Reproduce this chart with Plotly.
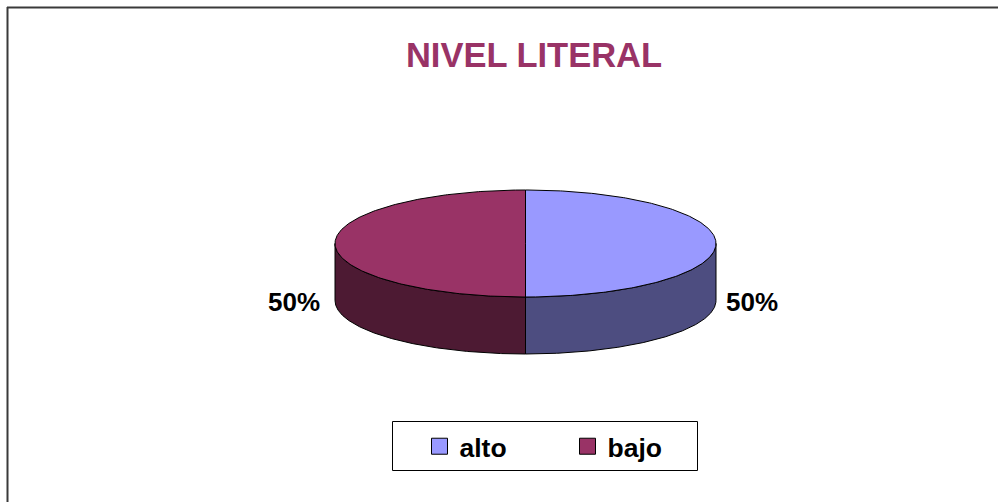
import numpy as np
import plotly.graph_objects as go

# ---- data ----
labels = ["alto", "bajo"]
values = [50, 50]
top_colors = ["#9999FF", "#993366"]
side_colors = ["#4D4D80", "#4D1A33"]
title_text = "NIVEL LITERAL"

# ---- geometry / style (pixel space) ----
W, H = 998, 502
CX, CY, RX, RY, DEPTH = 525.5, 243.5, 190.5, 53.5, 57
FONT = "Liberation Sans, Arial, sans-serif"


def pt(theta_deg, dy=0.0):
    t = np.radians(theta_deg)
    return CX + RX * np.sin(t), CY - RY * np.cos(t) + dy


total = float(sum(values))
angles = []
start = 0.0
for v in values:
    sweep = 360.0 * v / total
    angles.append((start, start + sweep))
    start += sweep

fig = go.Figure()

# side walls (front half only: 90..270 deg clockwise from 12 o'clock)
for (a0, a1), lab, sc in zip(angles, labels, side_colors):
    s, e = max(a0, 90.0), min(a1, 270.0)
    if e > s:
        th = np.linspace(s, e, 240)
        x1, y1 = pt(th)
        x2, y2 = pt(th[::-1], DEPTH)
        xs = np.concatenate([x1, x2, [x1[0]]])
        ys = np.concatenate([y1, y2, [y1[0]]])
        fig.add_trace(go.Scatter(x=xs, y=ys, mode="lines", fill="toself",
                                 fillcolor=sc, line=dict(color="black", width=1),
                                 showlegend=False, hoverinfo="skip"))

# top faces
for (a0, a1), lab, tc, v in zip(angles, labels, top_colors, values):
    th = np.linspace(a0, a1, 240)
    x1, y1 = pt(th)
    xs = np.concatenate([[CX], x1, [CX]])
    ys = np.concatenate([[CY], y1, [CY]])
    fig.add_trace(go.Scatter(x=xs, y=ys, mode="lines", fill="toself",
                             fillcolor=tc, line=dict(color="black", width=1),
                             showlegend=False, name=lab,
                             hovertemplate=f"{lab}: {v}<extra></extra>"))

# percentage labels
for (a0, a1), v in zip(angles, values):
    mid = (a0 + a1) / 2.0
    sn = np.sin(np.radians(mid))
    if sn >= 0:
        lx, xa = CX + RX + 8, "left"
    else:
        lx, xa = CX - RX - 13, "right"
    ly = CY + 58 - RY * np.cos(np.radians(mid))
    fig.add_annotation(x=lx, y=ly, xref="x", yref="y",
                       text=f"{round(100 * v / total)}%", showarrow=False,
                       xanchor=xa, yanchor="middle",
                       font=dict(family=FONT, size=26, color="black", weight="bold"))

# legend entries
for lab, tc in zip(labels, top_colors):
    fig.add_trace(go.Scatter(x=[None], y=[None], mode="markers", name=lab,
                             marker=dict(symbol="square", size=16, color=tc,
                                         line=dict(color="black", width=1))))

# frame
fig.add_shape(type="line", x0=7, x1=W, y0=7.5, y1=7.5, xref="x", yref="y",
              line=dict(color="#3a3a3a", width=2))
fig.add_shape(type="line", x0=7.5, x1=7.5, y0=7, y1=H, xref="x", yref="y",
              line=dict(color="#3a3a3a", width=2))
# legend box
fig.add_shape(type="rect", x0=392.5, x1=697.5, y0=421.5, y1=470.5, xref="x", yref="y",
              line=dict(color="black", width=1), fillcolor="rgba(0,0,0,0)")

fig.update_layout(
    width=W, height=H, margin=dict(l=0, r=0, t=0, b=0),
    paper_bgcolor="white", plot_bgcolor="white",
    title=dict(text=title_text, x=534 / W, xanchor="center",
               y=1 - 55 / H, yanchor="middle",
               font=dict(family=FONT, size=34.5, color="#993366", weight="bold")),
    xaxis=dict(range=[0, W], visible=False, fixedrange=True),
    yaxis=dict(range=[H, 0], visible=False, fixedrange=True),
    showlegend=True,
    legend=dict(orientation="h", x=419.5 / W, xanchor="left",
                y=1 - 446.5 / H, yanchor="middle",
                borderwidth=0, bgcolor="rgba(0,0,0,0)",
                font=dict(family=FONT, size=26.5, color="black", weight="bold"),
                entrywidth=103, itemwidth=30),
)

fig.write_html("out.html", config={"displayModeBar": False},
               post_script="document.body.style.margin='0';")
